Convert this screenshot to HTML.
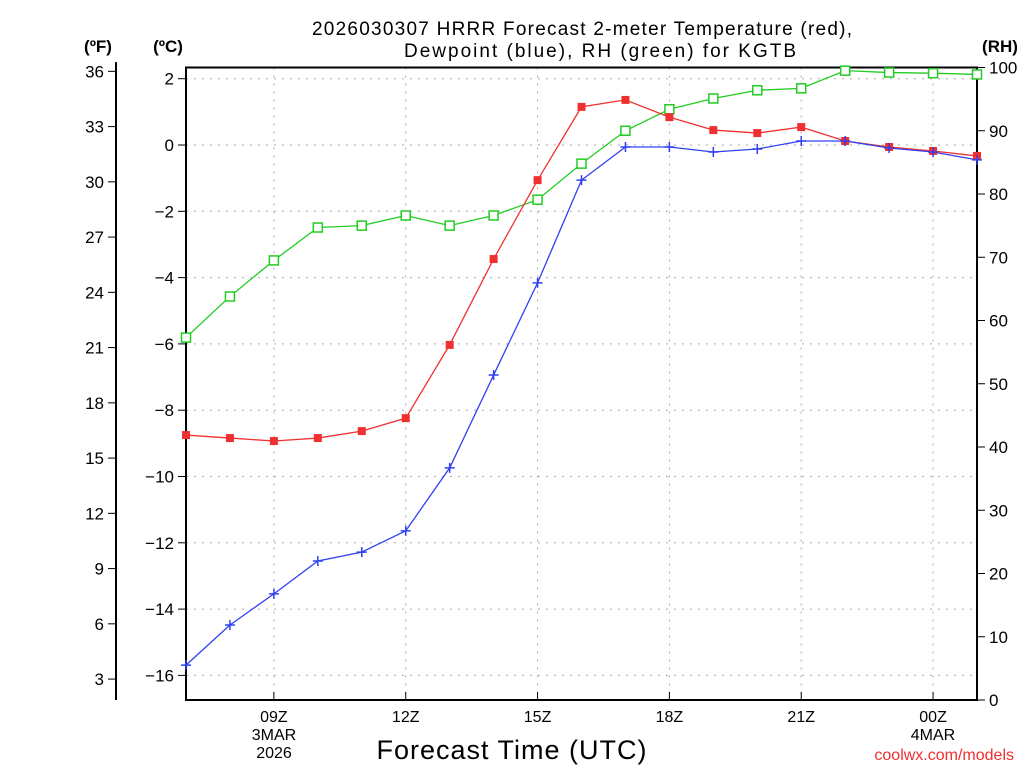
<!DOCTYPE html>
<html><head><meta charset="utf-8"><style>
body{margin:0;background:#fff;}
svg text{font-family:"Liberation Sans",sans-serif;}
</style></head><body>
<svg width="1024" height="768" viewBox="0 0 1024 768" xmlns="http://www.w3.org/2000/svg">
<g id="grid"></g>
<g id="axes"></g>
<g id="series"></g>
<text x="312" y="35" font-size="19" textLength="540" lengthAdjust="spacing">2026030307 HRRR Forecast 2-meter Temperature (red),</text>
<text x="404" y="57" font-size="19" textLength="392" lengthAdjust="spacing">Dewpoint (blue), RH (green) for KGTB</text>
<text x="98" y="52" font-size="17" font-weight="bold" text-anchor="middle">(ºF)</text>
<text x="168" y="52" font-size="17" font-weight="bold" text-anchor="middle">(ºC)</text>
<text x="1000" y="52" font-size="17" font-weight="bold" text-anchor="middle">(RH)</text>
<text x="512" y="759" font-size="27" text-anchor="middle" letter-spacing="1">Forecast Time (UTC)</text>
<text x="1014" y="760" font-size="16" fill="#f03030" text-anchor="end">coolwx.com/models</text>
</svg>
<script>
const hours=[7,8,9,10,11,12,13,14,15,16,17,18,19,20,21,22,23,24,25];
const tempC=[-8.75,-8.84,-8.93,-8.84,-8.63,-8.24,-6.03,-3.44,-1.06,1.15,1.36,0.84,0.45,0.36,0.54,0.12,-0.06,-0.18,-0.33];
const dewC=[-15.69,-14.48,-13.54,-12.55,-12.28,-11.64,-9.74,-6.94,-4.16,-1.06,-0.06,-0.06,-0.21,-0.12,0.12,0.12,-0.09,-0.21,-0.45];
const rh=[57.3,63.8,69.5,74.7,75.0,76.6,75.0,76.6,79.1,84.8,90.0,93.4,95.1,96.4,96.7,99.5,99.2,99.1,98.9];
const cTicks=[2,0,-2,-4,-6,-8,-10,-12,-14,-16];
const fTicks=[36,33,30,27,24,21,18,15,12,9,6,3];
const rhTicks=[0,10,20,30,40,50,60,70,80,90,100];
const xTickHours=[9,12,15,18,21,24];
const xTickLabels=["09Z","12Z","15Z","18Z","21Z","00Z"];

const L=186,R=977,T=67.5,B=700;
const xS=h=>L+(h-7)*(R-L)/18;
const cS=c=>145-c*33.15;
const fS=f=>cS((f-32)*5/9);
const rS=v=>B-v*(B-T)/100;
const NS="http://www.w3.org/2000/svg";
function mk(tag,attrs,parent,txt){const e=document.createElementNS(NS,tag);for(const k in attrs)e.setAttribute(k,attrs[k]);if(txt!==undefined)e.textContent=txt;parent.appendChild(e);return e;}
const grid=document.getElementById('grid'),axes=document.getElementById('axes'),series=document.getElementById('series');
cTicks.forEach(c=>{const y=cS(c);
 const g=mk('line',{x1:L,x2:R,y1:y,y2:y,stroke:'#aaa','stroke-dasharray':'2,6'},grid);
 
 
 mk('line',{x1:L-8,x2:L,y1:y,y2:y,stroke:'#000'},axes);
 const t=mk('text',{x:L-12,y:y+6,'font-size':17,'text-anchor':'end'},axes,c<0?'\u2212'+(-c):String(c));
 
 
});
xTickHours.forEach((h,i)=>{const x=xS(h);
 const g=mk('line',{x1:x,x2:x,y1:T,y2:B,stroke:'#aaa','stroke-dasharray':'2,6'},grid);
 
 
 mk('line',{x1:x,x2:x,y1:B,y2:B-8,stroke:'#000'},axes);
 const t=mk('text',{x:x,y:722,'font-size':16,'text-anchor':'middle'},axes,xTickLabels[i]);
 
 
});
[["3MAR",274,740],["2026",274,758],["4MAR",933,740]].forEach(d=>{
 const t=mk('text',{x:d[1],y:d[2],'font-size':16,'text-anchor':'middle'},axes,d[0]);
 
 
});
fTicks.forEach(f=>{const y=fS(f);
 mk('line',{x1:108,x2:116,y1:y,y2:y,stroke:'#000'},axes);
 const t=mk('text',{x:104,y:y+6,'font-size':17,'text-anchor':'end'},axes,String(f));
 
 
});
mk('line',{x1:116,x2:116,y1:fS(36.5),y2:B,stroke:'#000','stroke-width':2},axes);
rhTicks.forEach(v=>{const y=rS(v);
 mk('line',{x1:R,x2:R+8,y1:y,y2:y,stroke:'#000'},axes);
 const t=mk('text',{x:R+12,y:y+6,'font-size':17},axes,String(v));
 
 
});
const fr=mk('rect',{x:L,y:T,width:R-L,height:B-T,fill:'none',stroke:'#000','stroke-width':2},axes);



function drawLine(vals,sc,color,name){
 const pts=vals.map((v,i)=>xS(hours[i])+','+sc(v)).join(' ');
 const pl=mk('polyline',{points:pts,fill:'none',stroke:color,'stroke-width':1.3},series);
 
 
}
drawLine(rh,rS,'#22cc22','rh');
drawLine(tempC,cS,'#f03030','temperature');
drawLine(dewC,cS,'#3040f0','dewpoint');
rh.forEach((v,i)=>{const x=xS(hours[i]),y=rS(v);
 const m=mk('rect',{x:x-4.5,y:y-4.5,width:9,height:9,fill:'#fff',stroke:'#22cc22','stroke-width':1.5},series);
 
 
});
tempC.forEach((v,i)=>{const x=xS(hours[i]),y=cS(v);
 const m=mk('rect',{x:x-4,y:y-4,width:8,height:8,fill:'#f03030'},series);
 
 
});
dewC.forEach((v,i)=>{const x=xS(hours[i]),y=cS(v);
 const m=mk('path',{d:`M${x-5},${y}H${x+5}M${x},${y-5}V${y+5}`,stroke:'#3040f0','stroke-width':1.5},series);
 
 
});
</script>
</body></html>
